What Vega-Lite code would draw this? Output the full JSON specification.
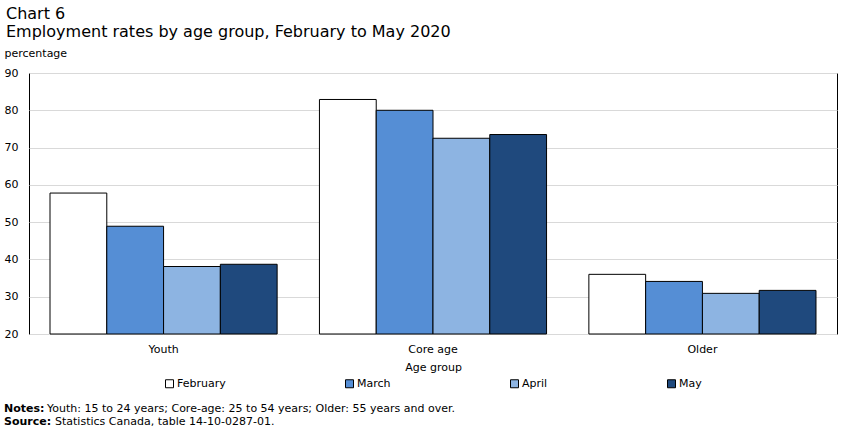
{
  "$schema": "https://vega.github.io/schema/vega-lite/v6.json",
  "background": "white",
  "padding": {"left": 3, "top": 5, "right": 13, "bottom": 5},
  "config": {
    "font": "DejaVu Sans",
    "view": {"stroke": "black", "strokeWidth": 1},
    "axis": {
      "labelFont": "DejaVu Sans", "labelFontSize": 11, "labelColor": "black",
      "titleFont": "DejaVu Sans", "titleFontSize": 11, "titleFontWeight": "normal", "titleColor": "black",
      "domain": false, "ticks": false, "gridColor": "#d9d9d9"
    },
    "legend": {
      "labelFont": "DejaVu Sans", "labelFontSize": 11, "labelColor": "black",
      "layout": {"bottom": {"anchor": "middle"}}
    },
    "concat": {"spacing": 11}
  },
  "vconcat": [
    {
      "title": {
        "text": ["Chart 6", "Employment rates by age group, February to May 2020"],
        "anchor": "start", "frame": "bounds", "fontSize": 16, "fontWeight": "normal",
        "lineHeight": 18, "color": "black", "offset": 7, "font": "DejaVu Sans", "dx": 2
      },
      "width": 808,
      "height": 261,
      "data": {
        "values": [
          {"group": "Youth", "month": "February", "rate": 57.8},
          {"group": "Youth", "month": "March", "rate": 48.9},
          {"group": "Youth", "month": "April", "rate": 38.1},
          {"group": "Youth", "month": "May", "rate": 38.7},
          {"group": "Core age", "month": "February", "rate": 82.9},
          {"group": "Core age", "month": "March", "rate": 80.0},
          {"group": "Core age", "month": "April", "rate": 72.5},
          {"group": "Core age", "month": "May", "rate": 73.5},
          {"group": "Older", "month": "February", "rate": 36.0},
          {"group": "Older", "month": "March", "rate": 34.1},
          {"group": "Older", "month": "April", "rate": 30.9},
          {"group": "Older", "month": "May", "rate": 31.7}
        ]
      },
      "mark": {"type": "bar", "stroke": "black", "strokeWidth": 1},
      "encoding": {
        "x": {
          "field": "group", "type": "nominal", "sort": ["Youth", "Core age", "Older"],
          "scale": {"paddingInner": 0.157, "paddingOuter": 0.078},
          "axis": {"title": "Age group", "labelAngle": 0, "labelPadding": 9, "titlePadding": 7, "grid": false}
        },
        "xOffset": {"field": "month", "type": "nominal", "sort": ["February", "March", "April", "May"], "scale": {"paddingInner": 0, "paddingOuter": 0}},
        "y": {
          "field": "rate", "type": "quantitative",
          "scale": {"domain": [20, 90], "nice": false, "zero": false},
          "axis": {
            "title": "percentage", "values": [20, 30, 40, 50, 60, 70, 80, 90],
            "titleAngle": 0, "titleAlign": "left", "titleBaseline": "middle",
            "titleX": -25, "titleY": -20, "labelPadding": 11, "grid": true
          }
        },
        "y2": {"datum": 20},
        "color": {
          "field": "month", "type": "nominal",
          "scale": {"domain": ["February", "March", "April", "May"], "range": ["#FFFFFF", "#558ED5", "#8DB4E2", "#1F497D"]},
          "legend": {
            "title": null, "orient": "bottom", "direction": "horizontal",
            "columnPadding": 117, "symbolType": "square", "symbolSize": 64,
            "symbolStrokeColor": "black", "symbolStrokeWidth": 1, "labelOffset": 2, "offset": 6
          }
        }
      }
    },
    {
      "width": 400,
      "height": 26,
      "view": {"stroke": null},
      "data": {
        "values": [
          {"line": 1, "label": "Notes:", "text": "Youth: 15 to 24 years; Core-age: 25 to 54 years; Older: 55 years and over."},
          {"line": 2, "label": "Source:", "text": "Statistics Canada, table 14-10-0287-01."}
        ]
      },
      "encoding": {"y": {"field": "line", "type": "ordinal", "axis": null}},
      "layer": [
        {
          "mark": {"type": "text", "align": "left", "baseline": "middle", "fontWeight": "bold", "fontSize": 11, "x": 0, "dx": -25, "color": "black"},
          "encoding": {"text": {"field": "label"}}
        },
        {
          "transform": [{"filter": "datum.line == 1"}],
          "mark": {"type": "text", "align": "left", "baseline": "middle", "fontSize": 11, "x": 0, "dx": 18, "color": "black"},
          "encoding": {"text": {"field": "text"}}
        },
        {
          "transform": [{"filter": "datum.line == 2"}],
          "mark": {"type": "text", "align": "left", "baseline": "middle", "fontSize": 11, "x": 0, "dx": 26, "color": "black"},
          "encoding": {"text": {"field": "text"}}
        }
      ]
    }
  ],
  "resolve": {"scale": {"color": "independent"}, "legend": {"color": "independent"}}
}
